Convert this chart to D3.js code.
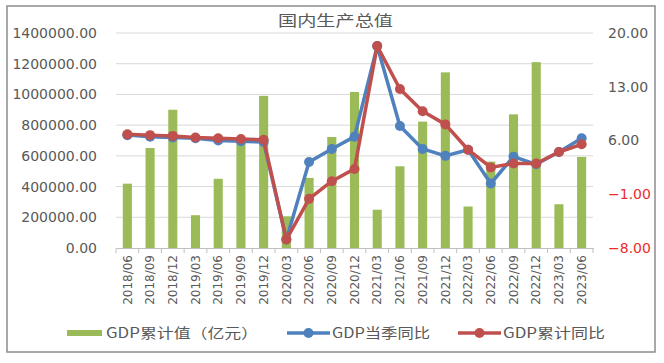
<!DOCTYPE html>
<html>
<head>
<meta charset="utf-8">
<script src="https://cdn.jsdelivr.net/npm/d3@7"></script>
<style>
  body { margin: 0; background: #fff; }
  text { font-family: "DejaVu Sans", sans-serif; fill: #595959; }
  .cn { font-family: "Noto Sans CJK SC", sans-serif; }
</style>
</head>
<body>
<div class="canvas"></div>
<script>
// quarters on the x axis
const quarters = ['2018/06','2018/09','2018/12','2019/03','2019/06','2019/09','2019/12',
  '2020/03','2020/06','2020/09','2020/12','2021/03','2021/06','2021/09','2021/12',
  '2022/03','2022/06','2022/09','2022/12','2023/03','2023/06'];

// GDP累计值（亿元）
const gdpCum = [418961, 650899, 900309, 213433, 450933, 697798, 990865,
  206504, 456614, 722786, 1015986, 249310, 532167, 823131, 1143670,
  270178, 562642, 870269, 1210207, 284997, 593034];

// GDP当季同比
const gdpQoq = [6.7, 6.5, 6.4, 6.3, 6.0, 5.9, 5.8,
  -6.9, 3.2, 4.9, 6.5, 18.3, 7.9, 4.9, 4.0,
  4.8, 0.4, 3.9, 2.9, 4.5, 6.3];

// GDP累计同比
const gdpYtd = [6.8, 6.7, 6.6, 6.4, 6.3, 6.2, 6.1,
  -6.9, -1.6, 0.7, 2.3, 18.3, 12.7, 9.8, 8.1,
  4.8, 2.5, 3.0, 3.0, 4.5, 5.5];

const leftTicks = [0, 200000, 400000, 600000, 800000, 1000000, 1200000, 1400000];
const rightTicks = [-8, -1, 6, 13, 20];

const dims = {width: 664, height: 363};
const plot = {left: 116, right: 593, top: 33, bottom: 248};

const svg = d3.select('.canvas')
  .append('svg')
  .attr('width', dims.width)
  .attr('height', dims.height);

// chart frame
svg.append('rect')
  .attr('x', 7).attr('y', 6)
  .attr('width', 648).attr('height', 346)
  .attr('fill', '#fff')
  .attr('stroke', '#8c8c8c')
  .attr('stroke-width', 1.5);

// scales
const x = d3.scaleBand()
  .domain(quarters)
  .range([plot.left, plot.right])
  .paddingInner(0.6)
  .paddingOuter(0.3);
const yL = d3.scaleLinear().domain([0, 1400000]).range([plot.bottom, plot.top]);
const yR = d3.scaleLinear().domain([-8, 20]).range([plot.bottom, plot.top]);
const cx = d => x(d) + x.bandwidth() / 2;

// gridlines
svg.append('g').selectAll('line')
  .data(leftTicks.slice(1))
  .enter().append('line')
  .attr('x1', plot.left).attr('x2', plot.right)
  .attr('y1', d => yL(d)).attr('y2', d => yL(d))
  .attr('stroke', '#d9d9d9').attr('stroke-width', 1);

// left axis
const axL = svg.append('g')
  .attr('transform', `translate(${plot.left},0)`)
  .call(d3.axisLeft(yL).tickValues(leftTicks).tickFormat(d3.format('.2f')).tickSize(0).tickPadding(19));
axL.select('.domain').remove();
axL.selectAll('text').attr('font-size', 14).attr('fill', '#595959');

// right axis, negatives in red
const axR = svg.append('g')
  .attr('transform', `translate(${plot.right},0)`)
  .call(d3.axisRight(yR).tickValues(rightTicks).tickFormat(d3.format('.2f')).tickSize(0).tickPadding(15));
axR.select('.domain').remove();
axR.selectAll('text').attr('font-size', 14)
  .attr('fill', d => d < 0 ? '#ee2a2a' : '#595959')
  .style('fill', d => d < 0 ? '#ee2a2a' : '#595959');

// bars
svg.append('g').selectAll('rect')
  .data(quarters)
  .enter().append('rect')
  .attr('x', d => x(d))
  .attr('width', x.bandwidth())
  .attr('y', (d, i) => yL(gdpCum[i]))
  .attr('height', (d, i) => plot.bottom - yL(gdpCum[i]))
  .attr('fill', '#9bbb59');

// x axis
const axX = svg.append('g')
  .attr('transform', `translate(0,${plot.bottom})`)
  .call(d3.axisBottom(x).tickSize(0).tickPadding(0));
axX.select('.domain').attr('stroke', '#bfbfbf');
axX.selectAll('text')
  .attr('font-size', 12)
  .attr('text-anchor', 'end')
  .attr('transform', 'rotate(-90)')
  .attr('x', -7)
  .attr('y', 0)
  .attr('dy', '0.35em');
// tick marks between categories
const step = x.step();
svg.append('g').selectAll('line')
  .data(d3.range(quarters.length + 1))
  .enter().append('line')
  .attr('x1', i => plot.left + i * step).attr('x2', i => plot.left + i * step)
  .attr('y1', plot.bottom).attr('y2', plot.bottom + 5)
  .attr('stroke', '#bfbfbf');

// lines
const series = [
  {values: gdpQoq, colour: '#4f81bd'},
  {values: gdpYtd, colour: '#c0504d'}
];
const line = d3.line().x(d => cx(d[0])).y(d => yR(d[1]));
series.forEach(s => {
  const pts = quarters.map((q, i) => [q, s.values[i]]);
  svg.append('path')
    .attr('d', line(pts))
    .attr('fill', 'none')
    .attr('stroke', s.colour)
    .attr('stroke-width', 3.5)
    .attr('stroke-linejoin', 'round');
  svg.append('g').selectAll('circle')
    .data(pts)
    .enter().append('circle')
    .attr('cx', d => cx(d[0]))
    .attr('cy', d => yR(d[1]))
    .attr('r', 5)
    .attr('fill', s.colour);
});

// title
svg.append('text')
  .attr('class', 'cn')
  .attr('x', 278).attr('y', 26)
  .attr('font-size', 15)
  .attr('textLength', 115)
  .attr('lengthAdjust', 'spacingAndGlyphs')
  .text('国内生产总值');

// legend
const legY = 333;
svg.append('rect').attr('x', 67).attr('y', legY - 3).attr('width', 35).attr('height', 6).attr('fill', '#9bbb59');
svg.append('text').attr('class', 'cn').attr('x', 106).attr('y', legY + 5)
  .attr('font-size', 14).attr('textLength', 152).attr('lengthAdjust', 'spacingAndGlyphs')
  .text('GDP累计值（亿元）');

[{x0: 287, label: 'GDP当季同比', colour: '#4f81bd', len: 98},
 {x0: 458, label: 'GDP累计同比', colour: '#c0504d', len: 102}].forEach(l => {
  svg.append('line').attr('x1', l.x0).attr('x2', l.x0 + 43)
    .attr('y1', legY).attr('y2', legY)
    .attr('stroke', l.colour).attr('stroke-width', 3.5);
  svg.append('circle').attr('cx', l.x0 + 21.5).attr('cy', legY).attr('r', 5).attr('fill', l.colour);
  svg.append('text').attr('class', 'cn').attr('x', l.x0 + 45).attr('y', legY + 5)
    .attr('font-size', 14).attr('textLength', l.len).attr('lengthAdjust', 'spacingAndGlyphs')
    .text(l.label);
});
</script>
</body>
</html>
